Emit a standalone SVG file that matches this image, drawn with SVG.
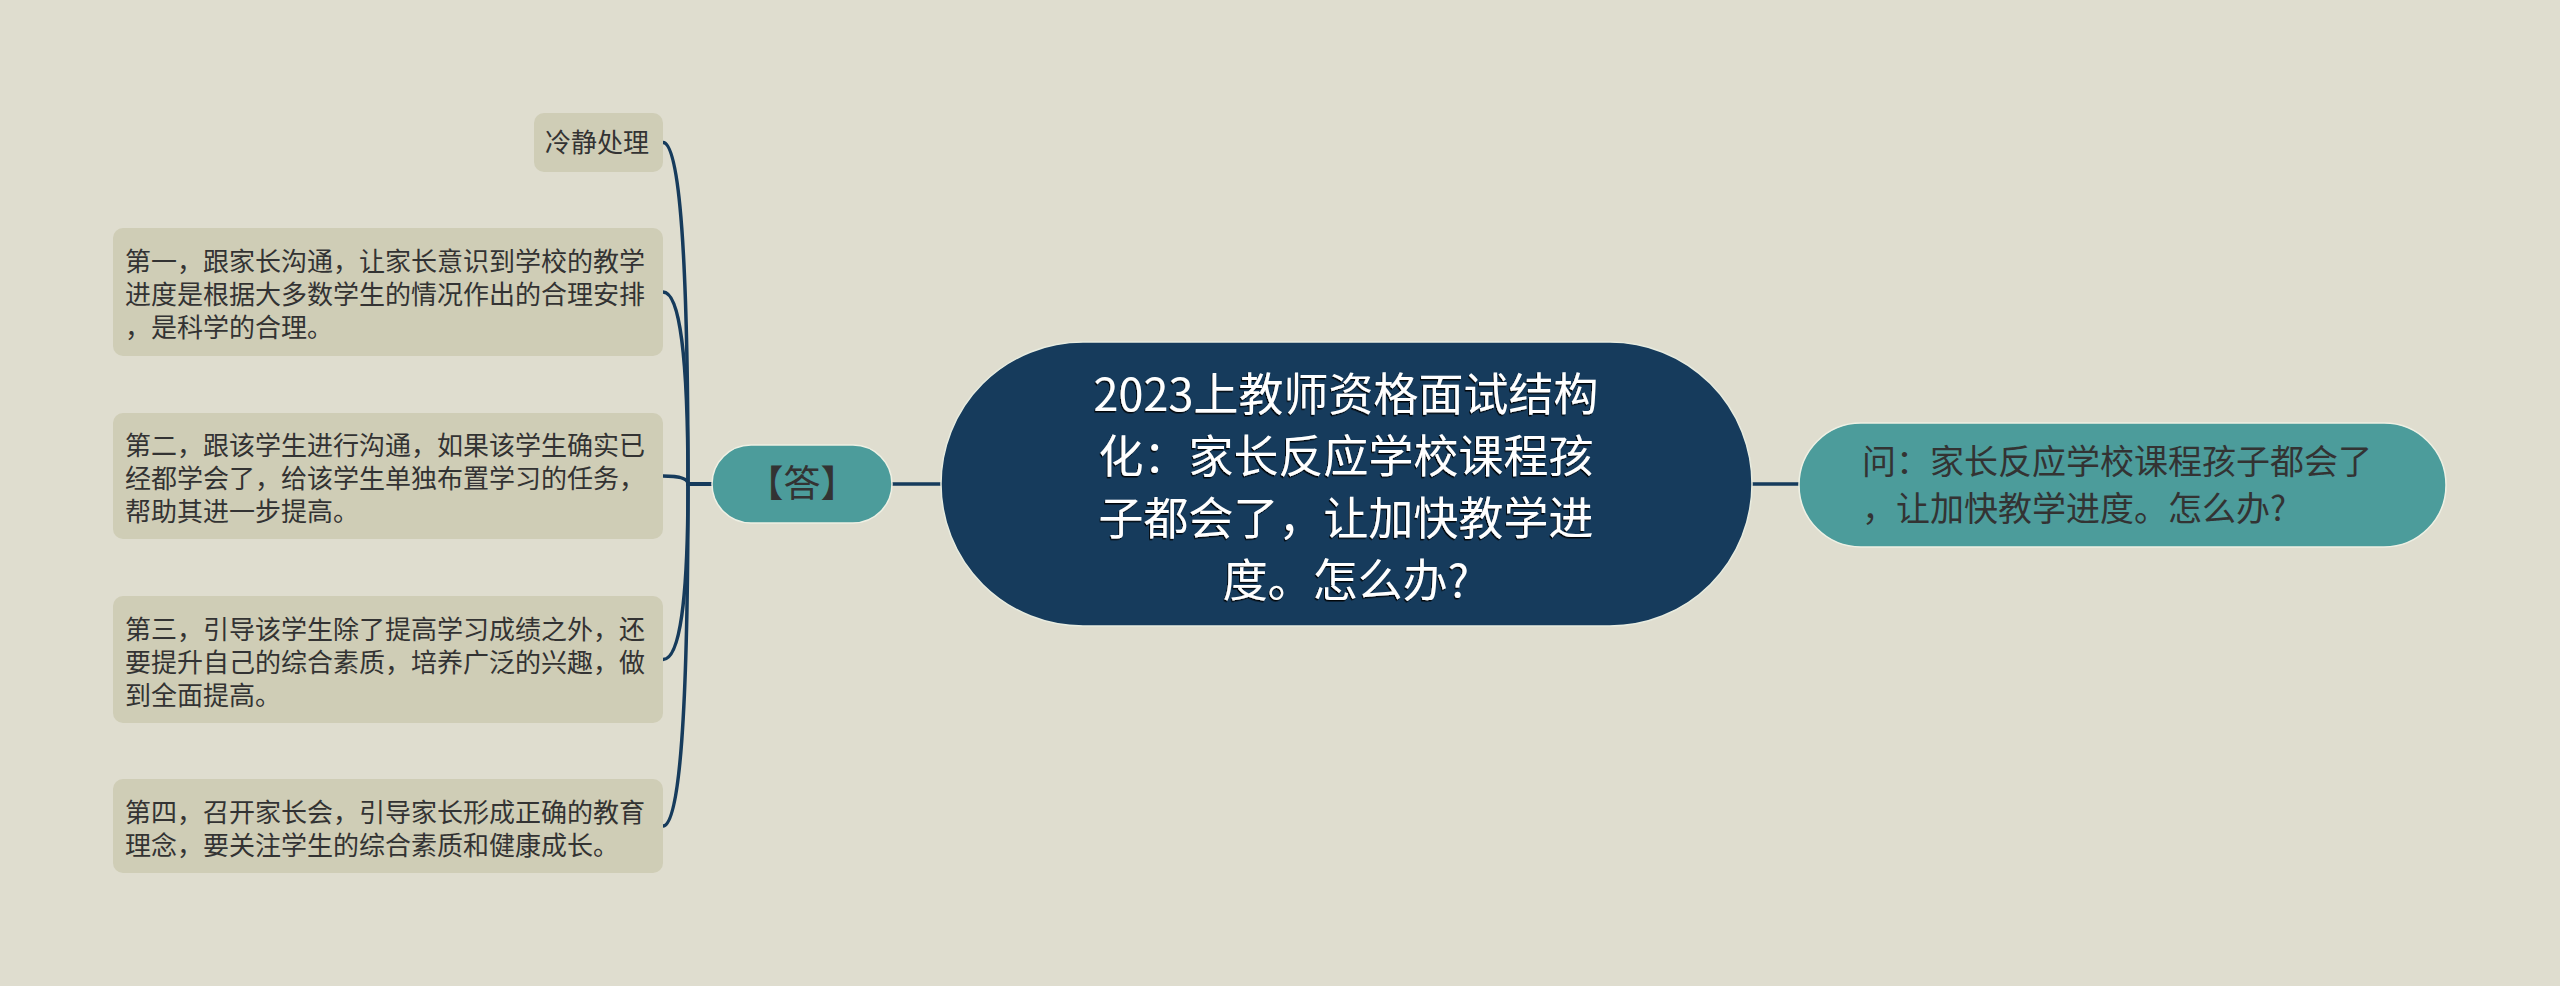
<svg xmlns="http://www.w3.org/2000/svg" width="2560" height="986" viewBox="0 0 2560 986">
<style>
text{font-family:"Noto Sans CJK SC","Noto Sans",sans-serif;}
.leaf rect{fill:#cfcdb6;}
.leaf text{font-size:26px;fill:#333333;}
.teal rect{fill:#4c9c9b;stroke:#eef0e4;stroke-width:1.5;}
.teal text{font-size:34px;fill:#333333;}
.root rect{fill:#163b5c;stroke:#e8ece0;stroke-width:1.5;}
.root text{font-size:45px;fill:#ffffff;text-anchor:middle;filter:url(#sh);}
.conn path{fill:none;stroke:#163b5c;stroke-width:3.5;stroke-linecap:round;}
</style>
<defs>
<filter id="sh" x="-5%" y="-20%" width="110%" height="140%">
<feDropShadow dx="-1" dy="1.5" stdDeviation="0.6" flood-color="#000000" flood-opacity="0.9"/>
</filter>
</defs>
<rect width="2560" height="986" fill="#dfddcf"/>
<g id="connectors" class="conn">
<path d="M1752 484 H1799"/>
<path d="M892 484 H941"/>
<path d="M712 484 H688 Q688 142.5 663 142.5"/>
<path d="M712 484 H688 Q688 292 663 292"/>
<path d="M712 484 H688 Q688 476 663 476"/>
<path d="M712 484 H688 Q688 659.5 663 659.5"/>
<path d="M712 484 H688 Q688 826 663 826"/>
</g>
<g id="root" class="root">
<rect x="941" y="342" width="811" height="284" rx="142" ry="142"/>
<text x="1346" y="411">2023上教师资格面试结构</text>
<text x="1346" y="473">化：家长反应学校课程孩</text>
<text x="1346" y="535">子都会了，让加快教学进</text>
<text x="1346" y="597">度。怎么办?</text>
</g>
<g id="question" class="teal">
<rect x="1799" y="423" width="647" height="124" rx="62" ry="62"/>
<text x="1862" y="474">问：家长反应学校课程孩子都会了</text>
<text x="1862" y="521">，让加快教学进度。怎么办?</text>
</g>
<g id="answer" class="teal">
<rect x="712" y="445" width="180" height="78" rx="39" ry="39"/>
<text x="802" y="497" text-anchor="middle" style="font-size:37px">【答】</text>
</g>
<g id="leaf0" class="leaf">
<rect x="534" y="113" width="129" height="59" rx="10" ry="10"/>
<text x="545" y="152">冷静处理</text>
</g>
<g id="leaf1" class="leaf">
<rect x="113" y="228" width="550" height="128" rx="10" ry="10"/>
<text x="125" y="271">第一，跟家长沟通，让家长意识到学校的教学</text>
<text x="125" y="304">进度是根据大多数学生的情况作出的合理安排</text>
<text x="125" y="337">，是科学的合理。</text>
</g>
<g id="leaf2" class="leaf">
<rect x="113" y="413" width="550" height="126" rx="10" ry="10"/>
<text x="125" y="455">第二，跟该学生进行沟通，如果该学生确实已</text>
<text x="125" y="488">经都学会了，给该学生单独布置学习的任务，</text>
<text x="125" y="521">帮助其进一步提高。</text>
</g>
<g id="leaf3" class="leaf">
<rect x="113" y="596" width="550" height="127" rx="10" ry="10"/>
<text x="125" y="639">第三，引导该学生除了提高学习成绩之外，还</text>
<text x="125" y="672">要提升自己的综合素质，培养广泛的兴趣，做</text>
<text x="125" y="705">到全面提高。</text>
</g>
<g id="leaf4" class="leaf">
<rect x="113" y="779" width="550" height="94" rx="10" ry="10"/>
<text x="125" y="822">第四，召开家长会，引导家长形成正确的教育</text>
<text x="125" y="855">理念，要关注学生的综合素质和健康成长。</text>
</g>
</svg>
